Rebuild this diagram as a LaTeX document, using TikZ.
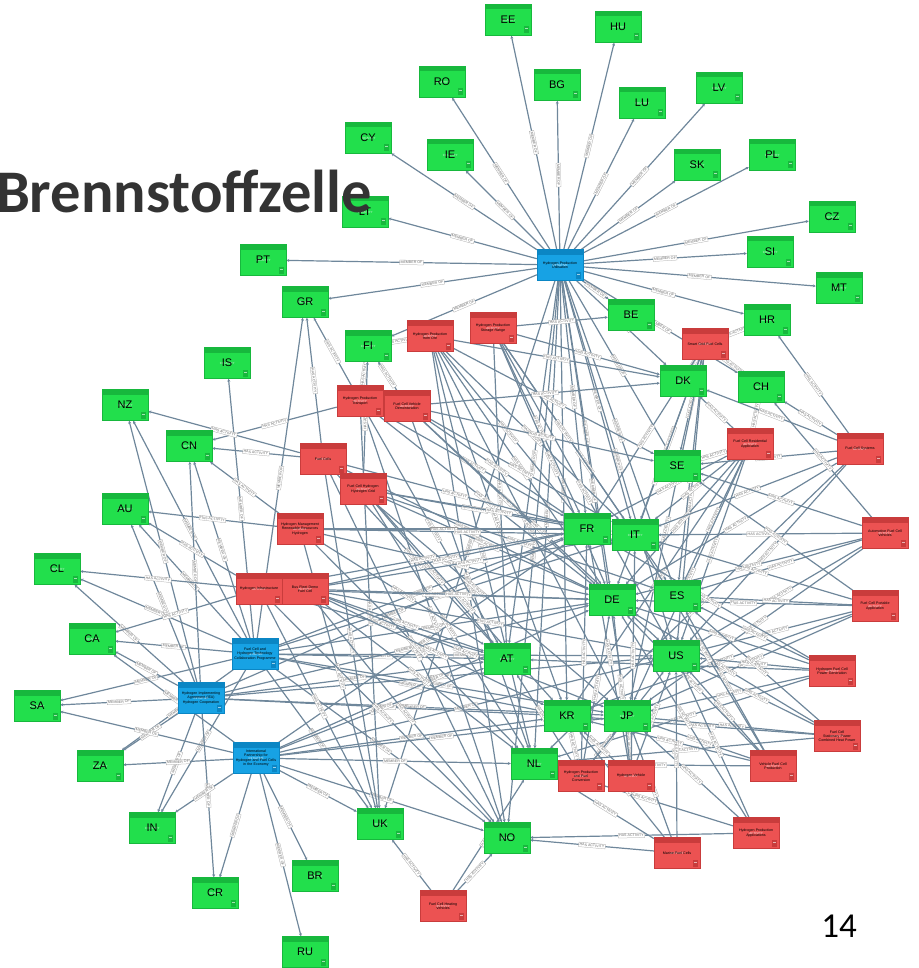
\documentclass[tikz,border=0pt]{standalone}
\usepackage{fontspec}
\setmainfont{Liberation Sans}
\newfontfamily\titlefont{Carlito}
\usetikzlibrary{arrows.meta}
\pgfdeclarelayer{background}
\pgfsetlayers{background,main}
\definecolor{cgreen}{HTML}{22DF4C}
\definecolor{cgreenhead}{HTML}{17B83D}
\definecolor{cred}{HTML}{EC5252}
\definecolor{credhead}{HTML}{C93C3C}
\definecolor{cblue}{HTML}{17A2E4}
\definecolor{cbluehead}{HTML}{0B86C4}
\definecolor{edgecol}{HTML}{6F879B}
\definecolor{titlecol}{HTML}{333333}
\tikzset{
  x=1pt, y=-1pt,
  card/.style={minimum width=46pt, minimum height=31pt, inner sep=1pt, align=center,
    draw=#1, line width=0.4pt},
  cardhead/.style 2 args={path picture={
      \fill[#1] (path picture bounding box.north west) rectangle
        ([yshift=-5pt]path picture bounding box.north east);
      \node[anchor=north west, inner sep=0.6pt, text=white!85!#1,
        font=\fontsize{3}{3}\selectfont] at (path picture bounding box.north west) {#2};
      \fill[#1] ([xshift=-7pt,yshift=2pt]path picture bounding box.south east) rectangle
        ([xshift=-2pt,yshift=9pt]path picture bounding box.south east);
      \fill[white!60!#1] ([xshift=-6pt,yshift=6pt]path picture bounding box.south east) rectangle
        ([xshift=-3pt,yshift=7pt]path picture bounding box.south east);
    }},
  country/.style={card=cgreenhead, fill=cgreen, cardhead={cgreenhead}{COUNTRY},
    font=\fontsize{11}{11}\selectfont, text depth=0pt},
  activity/.style={card=credhead, fill=cred, cardhead={credhead}{ACTIVITY},
    font=\fontsize{3.6}{4.2}\selectfont, text width=40pt},
  initiative/.style={card=cbluehead, fill=cblue, cardhead={cbluehead}{INITIATIVE},
    font=\fontsize{3.6}{4.2}\selectfont, text width=42pt},
  link/.style={draw=edgecol, line width=1.2pt, -{Stealth[length=3pt,width=3pt]}},
  elab/.style={sloped, fill=white, draw=gray!75, line width=0.25pt, inner sep=1pt,
    font=\fontsize{3.6}{3.6}\selectfont, text=gray!85!black},
}
\begin{document}
\begin{tikzpicture}
\useasboundingbox (0,0) rectangle (918,968);

% ---- countries ----
\foreach \n/\x/\y in {
  EE/508/20, HU/618/27, RO/442/82, BG/557/85, LV/719/88, LU/642/103,
  CY/368/138, IE/450/155, SK/697/165, PL/772/155, LT/365/212, CZ/832/217,
  SI/770/252, PT/263/260, MT/839/288, GR/305/302, BE/631/315, HR/767/320,
  FI/368/346, IS/227/363, DK/683/381, CH/761/387, NZ/125/405, CN/189/446,
  SE/677/466, AU/125/509, FR/587/529, IT/635/535, CL/57/569, DE/612/600,
  ES/677/596, CA/92/639, US/676/656, AT/507/659, SA/37/706, KR/567/716,
  JP/627/716, ZA/100/766, NL/534/764, UK/380/824, NO/507/838, IN/152/828,
  BR/315/876, CR/215/893, RU/305/952}
  \node[country] (\n) at (\x,\y) {\n};

% ---- activities ----
\node[activity] (A1)  at (430,336) {Hydrogen Production\\from Ore};
\node[activity] (A2)  at (493,328) {Hydrogen Production\\Storage Range};
\node[activity] (A3)  at (705,344) {Smart Grid Fuel Cells};
\node[activity] (A4)  at (360,401) {Hydrogen Production\\Transport};
\node[activity] (A5)  at (407,406) {Fuel Cell Vehicle\\Demonstration};
\node[activity] (A6)  at (750,444) {Fuel Cell Residential\\Application};
\node[activity] (A7)  at (860,449) {Fuel Cell Systems};
\node[activity] (A8)  at (323,459) {Fuel Cells};
\node[activity] (A9)  at (363,489) {Fuel Cell Hydrogen\\Hydrogen Grid};
\node[activity] (A10) at (300,529) {Hydrogen Management\\Renewable Resources\\Hydrogen};
\node[activity] (A11) at (885,533) {Automotive Fuel Cell\\Vehicles};
\node[activity] (A12) at (259,589) {Hydrogen Infrastructure};
\node[activity] (A13) at (305,589) {Bus Fleet Demo\\Fuel Cell};
\node[activity] (A14) at (875,606) {Fuel Cell Portable\\Application};
\node[activity] (A15) at (832,671) {Hydrogen Fuel Cell\\Power Generation};
\node[activity] (A16) at (837,736) {Fuel Cell\\Stationary Power\\Combined Heat Power};
\node[activity] (A17) at (773,766) {Vehicle Fuel Cell\\Production};
\node[activity] (A18) at (581,776) {Hydrogen Production\\and Fuel\\Conversion};
\node[activity] (A19) at (631,776) {Hydrogen Vehicle};
\node[activity] (A20) at (756,833) {Hydrogen Production\\Applications};
\node[activity] (A21) at (677,853) {Marine Fuel Cells};
\node[activity] (A22) at (443,906) {Fuel Cell Heating\\Vehicles};

% ---- initiatives ----
\node[initiative] (B1) at (560,265) {Hydrogen Production\\Utilisation};
\node[initiative] (B2) at (255,654) {Fuel Cell and\\Hydrogen Technology\\Collaboration Programme};
\node[initiative] (B3) at (201,698) {Hydrogen Implementing\\Agreement (IEA)\\Hydrogen Cooperation};
\node[initiative] (B4) at (256,758) {International\\Partnership for\\Hydrogen and Fuel Cells\\in the Economy};

% ---- connectors ----
\begin{pgfonlayer}{background}
\foreach \t in {EE,HU,RO,BG,LV,LU,CY,IE,SK,PL,LT,CZ,SI,PT,MT,GR,BE,HR,FI,DK,CH,
  SE,FR,IT,DE,ES,AT,NL,NO,UK,KR,JP,US}
  \draw[link] (B1) -- node[elab]{MEMBER OF} (\t);
\foreach \t in {NZ,CN,AU,CL,CA,SA,ZA,IN,FR,DE,IT,AT,US,JP,KR,UK,NO,IS,GR}
  \draw[link] (B2) -- node[elab]{MEMBER OF} (\t);
\foreach \t in {NZ,CN,AU,CL,CA,SA,ZA,IN,CR,FR,DE,JP,US,KR,AT}
  \draw[link] (B3) -- node[elab]{MEMBER OF} (\t);
\foreach \t in {ZA,IN,CR,BR,RU,UK,NO,NL,KR,JP,US,DE,FR,AT,CA,SA}
  \draw[link] (B4) -- node[elab]{MEMBER OF} (\t);
\foreach \s/\t in {
  A1/FI,A1/FR,A1/DE,A1/NL,A1/NO,A1/SE,A1/DK,A1/JP,A1/KR,A1/IT,
  A2/BE,A2/FR,A2/DE,A2/DK,A2/ES,A2/AT,A2/IT,A2/US,
  A3/HR,A3/CH,A3/DK,A3/SE,A3/FR,A3/IT,A3/DE,A3/JP,A3/US,A3/ES,
  A4/FI,A4/GR,A4/FR,A4/DE,A4/NO,A4/UK,A4/AT,A4/CN,
  A5/FI,A5/DK,A5/SE,A5/FR,A5/DE,A5/NL,A5/IT,A5/US,
  A6/CH,A6/DK,A6/SE,A6/FR,A6/IT,A6/DE,A6/ES,A6/US,A6/JP,A6/KR,
  A7/HR,A7/CH,A7/SE,A7/DK,A7/IT,A7/DE,A7/US,A7/NL,
  A8/CN,A8/NZ,A8/GR,A8/FR,A8/DE,A8/AT,A8/UK,A8/NO,A8/JP,
  A9/FI,A9/FR,A9/DE,A9/IT,A9/ES,A9/AT,A9/KR,A9/NL,
  A10/AU,A10/CN,A10/FR,A10/DE,A10/IT,A10/AT,A10/UK,A10/NL,
  A11/SE,A11/IT,A11/ES,A11/DE,A11/US,A11/JP,A11/CH,
  A12/AU,A12/CL,A12/CA,A12/FR,A12/DE,A12/AT,A12/UK,A12/NO,
  A13/FR,A13/DE,A13/IT,A13/AT,A13/KR,A13/NL,A13/NO,A13/JP,A13/US,
  A14/ES,A14/IT,A14/DE,A14/US,A14/JP,A14/SE,A14/KR,
  A15/US,A15/DE,A15/ES,A15/JP,A15/FR,A15/NL,A15/AT,
  A16/US,A16/JP,A16/KR,A16/NL,A16/ES,A16/DE,
  A17/JP,A17/US,A17/KR,A17/NL,A17/ES,A17/IT,A17/DE,
  A18/NL,A18/KR,A18/JP,A18/DE,A18/FR,A18/AT,A18/US,
  A19/JP,A19/KR,A19/US,A19/DE,A19/IT,A19/FR,
  A20/JP,A20/US,A20/NO,A20/NL,A20/DE,
  A21/JP,A21/KR,A21/NL,A21/US,A21/NO,
  A22/NO,A22/UK,A22/NL}
  \draw[link] (\s) -- node[elab]{HAS ACTIVITY} (\t);
\end{pgfonlayer}

% ---- title and page number ----
\node[anchor=base east, inner sep=0pt, text=titlecol,
  font=\titlefont\bfseries\fontsize{60.5}{60.5}\selectfont] (title) at (372,213) {Brennstoffzelle};
\node[anchor=base, inner sep=0pt, text=black,
  font=\titlefont\fontsize{35}{35}\selectfont] (page) at (839,937) {14};
\end{tikzpicture}
\end{document}
